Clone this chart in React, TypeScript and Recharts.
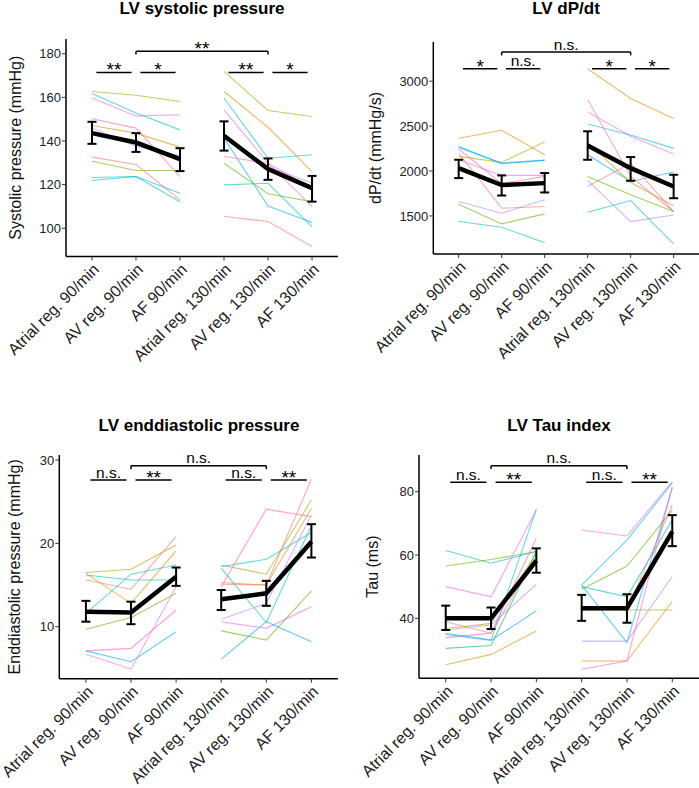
import { LineChart, Line, XAxis, YAxis, ErrorBar, ReferenceLine } from "recharts"

const FONT = "'Liberation Sans', Arial, sans-serif"

const CONDITIONS = [
  "Atrial reg. 90/min",
  "AV reg. 90/min",
  "AF 90/min",
  "Atrial reg. 130/min",
  "AV reg. 130/min",
  "AF 130/min",
]

const COLORS: Record<string, string> = {
  salmon: "#F8766D",
  orange: "#DB8E00",
  olive: "#AEA200",
  green: "#64B200",
  green2: "#00BD5C",
  teal: "#00C1A7",
  cyan: "#00BADE",
  blue: "#00A6FF",
  lavender: "#B385FF",
  magenta: "#EF67EB",
  pink: "#FF63B6",
}

type Run = [string, number[]]

// LV systolic pressure
const sys90: Run[] = [
  ["olive", [162.7, 161.0, 158.1]],
  ["cyan", [161.8, 152.8, 145.1]],
  ["magenta", [159.7, 151.5, 152.0]],
  ["pink", [150.2, 145.9, 123.7]],
  ["orange", [147.1, 143.6, 137.2]],
  ["lavender", [146.0, 137.5, 133.2]],
  ["salmon", [132.6, 129.2, 113.0]],
  ["green", [130.7, 126.5, 126.5]],
  ["teal", [123.3, 123.7, 112.2]],
  ["blue", [121.9, 123.7, 116.1]],
]
const sys130: Run[] = [
  ["olive", [171.9, 154.0, 151.2]],
  ["orange", [162.7, 146.3, 126.0]],
  ["cyan", [159.7, 132.1, 133.7]],
  ["magenta", [154.3, 129.8, 109.9]],
  ["lavender", [142.1, 128.3, 120.6]],
  ["blue", [141.3, 110.2, 102.6]],
  ["pink", [132.9, 129.8, 118.4]],
  ["green", [129.8, 115.8, 112.2]],
  ["teal", [119.9, 120.6, 100.8]],
  ["salmon", [105.4, 103.1, 91.6]],
]
const sysMean = [143.6, 139.3, 131.7, 142.4, 127.1, 118.4]
const sysLow = [138.7, 135.0, 126.2, 135.6, 122.2, 112.2]
const sysHigh = [148.8, 143.6, 136.7, 149.0, 132.0, 124.0]
const sysSig = ["**", "*", "**", "**", "*"]

// LV dP/dt
const dpdt90: Run[] = [
  ["orange", [2364, 2453, 2181]],
  ["olive", [2163, 2096, 2323]],
  ["cyan", [2274, 2081, 2118]],
  ["blue", [2262, 2088, 2121]],
  ["magenta", [2125, 1951, 1951]],
  ["pink", [2245, 1860, 1940]],
  ["salmon", [2200, 1586, 1604]],
  ["lavender", [1660, 1530, 1679]],
  ["green", [1630, 1411, 1523]],
  ["teal", [1437, 1374, 1202]],
]
const dpdt130: Run[] = [
  ["orange", [3138, 2807, 2584]],
  ["magenta", [2658, 2386, 2189]],
  ["cyan", [2524, 2401, 2252]],
  ["pink", [2795, 1939, 1549]],
  ["blue", [2181, 1884, 1988]],
  ["olive", [2312, 1872, 1612]],
  ["salmon", [1828, 2088, 1549]],
  ["green", [1939, 1735, 1549]],
  ["lavender", [1895, 1437, 1511]],
  ["teal", [1541, 1671, 1188]],
]
const dpdtMean = [2032, 1843, 1865, 2285, 2032, 1828]
const dpdtLow = [1921, 1727, 1761, 2125, 1891, 1697]
const dpdtHigh = [2125, 1951, 1977, 2442, 2155, 1958]
const dpdtSig = ["*", "n.s.", "n.s.", "*", "*"]

// LV enddiastolic pressure
const edp90: Run[] = [
  ["olive", [16.5, 16.9, 19.8]],
  ["orange", [16.4, 12.8, 19.1]],
  ["teal", [16.2, 15.6, 15.6]],
  ["salmon", [15.6, 14.5, 20.8]],
  ["cyan", [11.6, 16.3, 17.4]],
  ["green", [9.7, 11.1, 14.0]],
  ["pink", [7.1, 7.4, 12.0]],
  ["blue", [7.1, 5.8, 9.4]],
  ["magenta", [6.7, 4.9, 14.8]],
]
const edp130: Run[] = [
  ["olive", [17.4, 16.3, 25.2]],
  ["cyan", [17.2, 18.1, 21.3]],
  ["orange", [15.3, 15.0, 24.2]],
  ["salmon", [15.1, 15.0, 27.7]],
  ["pink", [14.8, 24.1, 23.2]],
  ["teal", [17.0, 10.5, 22.1]],
  ["lavender", [10.9, 12.8, 23.4]],
  ["magenta", [10.6, 9.8, 12.4]],
  ["green", [9.5, 8.4, 14.3]],
  ["blue", [6.1, 10.6, 8.2]],
]
const edpMean = [11.8, 11.7, 16.0, 13.3, 14.0, 20.2]
const edpLow = [10.6, 10.3, 14.9, 12.0, 12.5, 18.3]
const edpHigh = [13.1, 13.0, 17.1, 14.4, 15.5, 22.3]
const edpSig = ["n.s.", "**", "n.s.", "n.s.", "**"]

// LV Tau index
const tau90: Run[] = [
  ["teal", [61.4, 57.4, 61.1]],
  ["green", [56.5, 58.6, 61.1]],
  ["magenta", [50.0, 46.8, 74.2]],
  ["olive", [36.8, 38.4, 60.5]],
  ["salmon", [38.9, 35.3, 59.5]],
  ["lavender", [36.3, 37.9, 50.7]],
  ["cyan", [35.3, 33.2, 74.5]],
  ["pink", [33.9, 35.3, 65.3]],
  ["blue", [34.9, 33.0, 42.4]],
  ["green2", [30.5, 31.4, 61.1]],
  ["orange", [25.3, 28.6, 36.0]],
]
const tau130: Run[] = [
  ["magenta", [67.9, 66.0, 83.2]],
  ["cyan", [50.5, 64.7, 82.8]],
  ["blue", [50.5, 32.3, 81.4]],
  ["green", [49.2, 56.5, 74.2]],
  ["teal", [50.0, 46.8, 71.1]],
  ["salmon", [42.6, 42.6, 75.8]],
  ["olive", [43.2, 42.6, 42.6]],
  ["lavender", [32.8, 32.8, 53.2]],
  ["orange", [26.5, 26.5, 45.3]],
  ["pink", [23.9, 26.5, 81.4]],
]
const tauMean = [40.0, 40.0, 58.2, 43.2, 43.2, 67.4]
const tauLow = [36.3, 36.6, 54.4, 39.2, 38.6, 62.8]
const tauHigh = [44.0, 43.4, 62.1, 47.4, 47.6, 72.6]
const tauSig = ["n.s.", "**", "n.s.", "n.s.", "**"]

type PanelCfg = {
  title: string
  yLabel: string
  g90: Run[]
  g130: Run[]
  mean: number[]
  low: number[]
  high: number[]
  sig: string[]
  ticks: number[]
  domain: [number, number]
  shortY: number
  longY: number
  drop: number
  left: number
  top: number
  width: number
  height: number
  marginTop: number
  marginRight: number
  yWidth: number
  xHeight: number
  yLabelX: number
}

const panels: PanelCfg[] = [
  {
    title: "LV systolic pressure", yLabel: "Systolic pressure (mmHg)",
    g90: sys90, g130: sys130, mean: sysMean, low: sysLow, high: sysHigh, sig: sysSig,
    ticks: [100, 120, 140, 160, 180], domain: [87.06, 186.75],
    shortY: 171.4, longY: 181.1, drop: 1.5,
    left: 0, top: 0, width: 349, height: 395, marginTop: 39, marginRight: 11,
    yWidth: 66, xHeight: 138.5, yLabelX: 15,
  },
  {
    title: "LV dP/dt", yLabel: "dP/dt (mmHg/s)",
    g90: dpdt90, g130: dpdt130, mean: dpdtMean, low: dpdtLow, high: dpdtHigh, sig: dpdtSig,
    ticks: [1500, 2000, 2500, 3000], domain: [1076, 3436],
    shortY: 3138, longY: 3324, drop: 37,
    left: 349, top: 0, width: 350, height: 395, marginTop: 42, marginRight: 0,
    yWidth: 84.3, xHeight: 141, yLabelX: 26,
  },
  {
    title: "LV enddiastolic pressure", yLabel: "Enddiastolic pressure (mmHg)",
    g90: edp90, g130: edp130, mean: edpMean, low: edpLow, high: edpHigh, sig: edpSig,
    ticks: [10, 20, 30], domain: [3.76, 30.6],
    shortY: 27.6, longY: 29.3, drop: 0.4,
    left: 0, top: 395, width: 349, height: 393, marginTop: 60, marginRight: 11,
    yWidth: 59.3, xHeight: 109.3, yLabelX: 14.5,
  },
  {
    title: "LV Tau index", yLabel: "Tau (ms)",
    g90: tau90, g130: tau130, mean: tauMean, low: tauLow, high: tauHigh, sig: tauSig,
    ticks: [40, 60, 80], domain: [21.04, 91.6],
    shortY: 83.0, longY: 88.2, drop: 1.05,
    left: 349, top: 395, width: 350, height: 393, marginTop: 60, marginRight: 0,
    yWidth: 70, xHeight: 109.7, yLabelX: 23.5,
  },
]

const RotTick = (props: any) => {
  const { x, y, payload } = props
  return (
    <text
      x={x}
      y={y}
      transform={`rotate(-45 ${x} ${y})`}
      textAnchor="end"
      dy="0.71em"
      fontSize={16}
      fontFamily={FONT}
      fill="#222"
    >
      {CONDITIONS[payload.value - 1]}
    </text>
  )
}

const sigLabel = (text: string) => (props: any) => {
  const vb = props.viewBox || {}
  let cx: number
  let y: number
  if (vb.x1 !== undefined) {
    cx = (vb.x1 + vb.x2) / 2
    y = Math.min(vb.y1, vb.y2)
  } else {
    cx = vb.x + vb.width / 2
    y = vb.y
  }
  const stars = text !== "n.s."
  return (
    <text
      x={cx}
      y={stars ? y + 4 : y - 2.5}
      textAnchor="middle"
      fontSize={stars ? 19 : 15.5}
      fontFamily={FONT}
      fill="#000"
    >
      {text}
    </text>
  )
}

const yLabel = (text: string, offset: number) => (props: any) => {
  const vb = props.viewBox || {}
  const x = (vb.x ?? 0) + offset
  const y = (vb.y ?? 0) + (vb.height ?? 0) / 2
  return (
    <text
      x={x}
      y={y}
      transform={`rotate(-90 ${x} ${y})`}
      textAnchor="middle"
      dominantBaseline="central"
      fontSize={16}
      fontFamily={FONT}
      fill="#111"
    >
      {text}
    </text>
  )
}

function Panel({ cfg }: { cfg: PanelCfg }) {
  const meanData = (start: number) =>
    [0, 1, 2].map((i) => {
      const k = start + i
      return { x: k + 1, y: cfg.mean[k], err: [cfg.mean[k] - cfg.low[k], cfg.high[k] - cfg.mean[k]] }
    })
  const runLine = (run: Run, start: number, key: string) => (
    <Line
      key={key}
      data={run[1].map((v, i) => ({ x: start + i + 1, y: v }))}
      dataKey="y"
      stroke={COLORS[run[0]]}
      strokeOpacity={0.6}
      strokeWidth={1.1}
      dot={false}
      activeDot={false}
      isAnimationActive={false}
    />
  )
  const seg = (x1: number, x2: number, y1: number, y2: number, key: string, label?: string) => (
    <ReferenceLine
      key={key}
      segment={[{ x: x1, y: y1 }, { x: x2, y: y2 }]}
      stroke="#000"
      strokeWidth={1.5}
      ifOverflow="visible"
      label={label ? sigLabel(label) : undefined}
    />
  )
  const L = cfg.longY
  return (
    <div style={{ position: "absolute", left: cfg.left, top: cfg.top }}>
      <LineChart
        width={cfg.width}
        height={cfg.height}
        margin={{ top: cfg.marginTop, right: cfg.marginRight, bottom: 0, left: 0 }}
        style={{ overflow: "visible" }}
      >
        <XAxis
          type="number"
          dataKey="x"
          domain={[0.41, 6.59]}
          ticks={[1, 2, 3, 4, 5, 6]}
          interval={0}
          allowDataOverflow
          height={cfg.xHeight}
          tickSize={4}
          tickMargin={2}
          tick={<RotTick />}
          axisLine={{ stroke: "#000", strokeWidth: 1.5 }}
          tickLine={{ stroke: "#333" }}
        />
        <YAxis
          type="number"
          domain={cfg.domain}
          ticks={cfg.ticks}
          allowDataOverflow
          width={cfg.yWidth}
          tickSize={4}
          tickMargin={1}
          tick={{ fontSize: 13, fontFamily: FONT, fill: "#222" }}
          axisLine={{ stroke: "#000", strokeWidth: 1.5 }}
          tickLine={{ stroke: "#333" }}
          label={yLabel(cfg.yLabel, cfg.yLabelX)}
        />
        {cfg.g90.map((r, i) => runLine(r, 0, `a${i}`))}
        {cfg.g130.map((r, i) => runLine(r, 3, `b${i}`))}
        {[0, 3].map((s) => (
          <Line
            key={`m${s}`}
            data={meanData(s)}
            dataKey="y"
            stroke="#000"
            strokeWidth={4.5}
            dot={false}
            activeDot={false}
            isAnimationActive={false}
          >
            <ErrorBar dataKey="err" direction="y" width={4.5} stroke="#000" strokeWidth={2} isAnimationActive={false} />
          </Line>
        ))}
        {seg(1.1, 1.9, cfg.shortY, cfg.shortY, "s1", cfg.sig[0])}
        {seg(2.1, 2.9, cfg.shortY, cfg.shortY, "s2", cfg.sig[1])}
        {seg(4.1, 4.9, cfg.shortY, cfg.shortY, "s4", cfg.sig[3])}
        {seg(5.1, 5.9, cfg.shortY, cfg.shortY, "s5", cfg.sig[4])}
        {seg(2, 5, L, L, "l", cfg.sig[2])}
        {seg(2, 2, L - cfg.drop, L, "l1")}
        {seg(5, 5, L - cfg.drop, L, "l2")}
      </LineChart>
    </div>
  )
}

const titles = [
  { text: "LV systolic pressure", x: 202, y: 14 },
  { text: "LV dP/dt", x: 566, y: 14 },
  { text: "LV enddiastolic pressure", x: 199, y: 430.5 },
  { text: "LV Tau index", x: 559, y: 430.5 },
]

export default function App() {
  return (
    <div style={{ position: "absolute", left: 0, top: 0, width: 699, height: 788, background: "#fff" }}>
      {panels.map((p) => (
        <Panel key={p.title} cfg={p} />
      ))}
      <svg width={699} height={788} style={{ position: "absolute", left: 0, top: 0, pointerEvents: "none" }}>
        {titles.map((t) => (
          <text key={t.text} x={t.x} y={t.y} textAnchor="middle" fontSize={17} fontWeight="bold" fontFamily={FONT} fill="#000">
            {t.text}
          </text>
        ))}
      </svg>
    </div>
  )
}
